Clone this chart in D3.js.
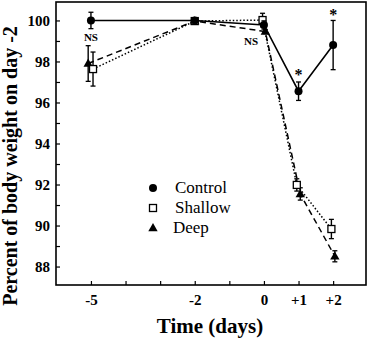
<!DOCTYPE html>
<html><head><meta charset="utf-8">
<script src="https://cdn.jsdelivr.net/npm/d3@7"></script>
<style>body{margin:0;background:#fff}svg{display:block}</style>
</head><body>
<svg id="c" width="369" height="341"></svg>
<script>
// Data (days, percent of body weight on day -2, s.e.)
const controlX = [-5, -2, 0, 1, 2];
const controlY = [100.0, 100.0, 99.78, 96.55, 98.8];
const controlE = [0.4, 0.1, 0.2, 0.45, 1.2];
const shallowX = [-4.94, -2, -0.04, 0.95, 1.95];
const shallowY = [97.63, 99.97, 100.02, 91.98, 89.83];
const shallowE = [0.83, 0.05, 0.33, 0.3, 0.47];
const deepX = [-5.08, -2, 0.04, 1.05, 2.05];
const deepY = [97.9, 99.97, 99.46, 91.54, 88.5];
const deepE = [0.87, 0.05, 0.1, 0.3, 0.27];
const xTicks = [-5, -4, -3, -2, -1, 0, 1, 2];
const xTickLabels = {"-5":"-5","-2":"-2","0":"0","1":"+1","2":"+2"};
const yTicks = [88,89,90,91,92,93,94,95,96,97,98,99,100];
const yTickLabels = [88,90,92,94,96,98,100];
const legendNames = ["Control","Shallow","Deep"];
const annotations = [{x:-5, y:99.0, t:"NS"}, {x:-0.37, y:98.78, t:"NS"}, {x:1, y:97.12, t:"*"}, {x:2, y:100.0, t:"*"}];

const svg = d3.select("#c");
const L=56, R=366, T=2, B=285;
const x = d3.scaleLinear().domain([-6.01, 2.95]).range([L, R]);
const y = d3.scaleLinear().domain([87.1, 100.9]).range([B, T]);
const font = "'Liberation Serif', 'Times New Roman', serif";

// frame
svg.append("rect").attr("x",L).attr("y",T).attr("width",R-L).attr("height",B-T)
  .attr("fill","none").attr("stroke","#000").attr("stroke-width",1.6);

// axes with inward ticks
const xAxis = d3.axisBottom(x).tickValues(xTicks).tickSize(-4).tickPadding(9)
  .tickFormat(d => xTickLabels[String(d)] || "");
const gx = svg.append("g").attr("transform",`translate(0,${B})`).call(xAxis);
gx.select(".domain").remove();
gx.selectAll("line").attr("stroke","#000").attr("stroke-width",1.2);
gx.selectAll("text").attr("font-family",font).attr("font-weight","bold").attr("font-size",15).attr("fill","#000");

const yAxis = d3.axisLeft(y).tickValues(yTicks).tickSize(-4).tickPadding(6)
  .tickFormat(d => yTickLabels.includes(d) ? d : "");
const gy = svg.append("g").attr("transform",`translate(${L},0)`).call(yAxis);
gy.select(".domain").remove();
gy.selectAll("line").attr("stroke","#000").attr("stroke-width",1.2);
gy.selectAll("text").attr("font-family",font).attr("font-weight","bold").attr("font-size",15).attr("fill","#000");

// titles
svg.append("text").attr("x",210).attr("y",333).attr("text-anchor","middle")
  .attr("font-family",font).attr("font-weight","bold").attr("font-size",21).text("Time (days)");
svg.append("text").attr("transform","translate(17,166) rotate(-90)").attr("text-anchor","middle")
  .attr("font-family",font).attr("font-weight","bold").attr("font-size",20).text("Percent of body weight on day -2");

const series = [
  {xs:controlX, ys:controlY, es:controlE, dash:null, sym:"circle"},
  {xs:shallowX, ys:shallowY, es:shallowE, dash:"1.5,2", sym:"square"},
  {xs:deepX, ys:deepY, es:deepE, dash:"6,4", sym:"triangle"}
];
const line = d3.line().x(d=>x(d[0])).y(d=>y(d[1]));

function drawSym(g, sym, cx, cy){
  if(sym==="circle") g.append("circle").attr("cx",cx).attr("cy",cy).attr("r",4).attr("fill","#000");
  else if(sym==="square") g.append("rect").attr("x",cx-3.5).attr("y",cy-3.5).attr("width",7).attr("height",7)
      .attr("fill","#fff").attr("stroke","#000").attr("stroke-width",1.3);
  else g.append("path").attr("d",d3.symbol(d3.symbolTriangle,38)()).attr("transform",`translate(${cx},${cy+0.5})`).attr("fill","#000");
}

// lines first
[2,1,0].forEach(i=>{
  const s=series[i];
  const pts = s.xs.map((v,k)=>[v,s.ys[k]]);
  svg.append("path").attr("d",line(pts)).attr("fill","none").attr("stroke","#000")
    .attr("stroke-width", i===0?1.6:1.5).attr("stroke-dasharray",s.dash);
});
// error bars + markers
[2,1,0].forEach(i=>{
  const s=series[i];
  const g=svg.append("g");
  s.xs.forEach((v,k)=>{
    const cx=x(v), y1=y(s.ys[k]+s.es[k]), y2=y(s.ys[k]-s.es[k]);
    g.append("line").attr("x1",cx).attr("x2",cx).attr("y1",y1).attr("y2",y2).attr("stroke","#000").attr("stroke-width",1.4);
    [y1,y2].forEach(yy=>g.append("line").attr("x1",cx-2.5).attr("x2",cx+2.5).attr("y1",yy).attr("y2",yy).attr("stroke","#000").attr("stroke-width",1.3));
    drawSym(g, s.sym, cx, y(s.ys[k]));
  });
});

// annotations
annotations.forEach(a=>{
  svg.append("text").attr("x",x(a.x)).attr("y",y(a.y)).attr("text-anchor","middle")
    .attr("font-family",font).attr("font-weight","bold").attr("font-size",a.t==="NS"?11:16).text(a.t);
});

// legend
const syms=["circle","square","triangle"];
legendNames.forEach((n,i)=>{
  const cy=188+i*20;
  drawSym(svg, syms[i], 153, cy);
  svg.append("text").attr("x",175 - (i===2?2:0)).attr("y",cy+5).attr("font-family",font).attr("font-size",17).text(n);
});
</script>
</body></html>
